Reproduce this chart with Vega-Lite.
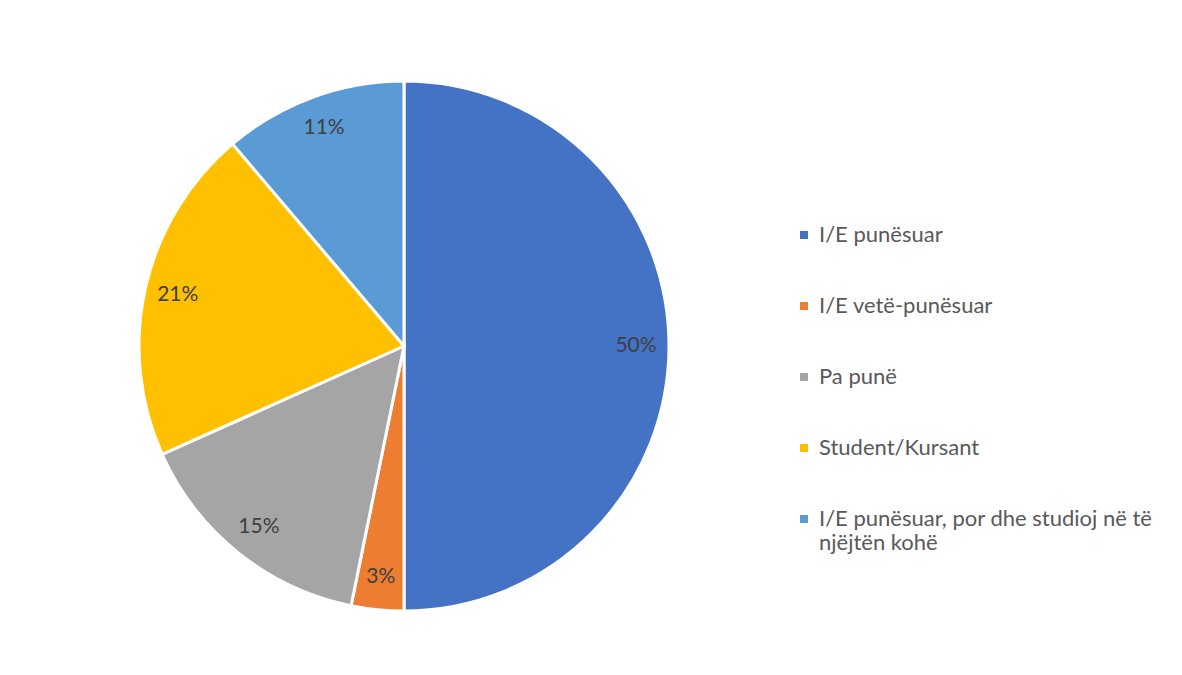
{
  "$schema": "https://vega.github.io/schema/vega-lite/v6.json",
  "width": 808,
  "height": 658,
  "padding": {"left": 0, "top": 17, "right": 0, "bottom": 0},
  "autosize": {"type": "pad"},
  "background": "white",
  "config": {"view": {"stroke": null}},
  "data": {
    "values": [
      {"category": "I/E punësuar", "value": 50.0, "label": "50%", "order": 1},
      {"category": "I/E vetë-punësuar", "value": 3.2, "label": "3%", "order": 2},
      {"category": "Pa punë", "value": 15.1, "label": "15%", "order": 3},
      {"category": "Student/Kursant", "value": 20.5, "label": "21%", "order": 4},
      {"category": "I/E punësuar, por dhe studioj në të njëjtën kohë", "value": 11.2, "label": "11%", "order": 5}
    ]
  },
  "encoding": {
    "theta": {"field": "value", "type": "quantitative", "stack": true},
    "order": {"field": "order", "type": "quantitative"}
  },
  "layer": [
    {
      "mark": {"type": "arc", "radius": 265, "stroke": "white", "strokeWidth": 3},
      "encoding": {
        "color": {
          "field": "category",
          "type": "nominal",
          "sort": ["I/E punësuar", "I/E vetë-punësuar", "Pa punë", "Student/Kursant", "I/E punësuar, por dhe studioj në të njëjtën kohë"],
          "scale": {
            "domain": ["I/E punësuar", "I/E vetë-punësuar", "Pa punë", "Student/Kursant", "I/E punësuar, por dhe studioj në të njëjtën kohë"],
            "range": ["#4472C4", "#ED7D31", "#A5A5A5", "#FFC000", "#5B9BD5"]
          },
          "legend": {
            "title": null,
            "orient": "none",
            "legendX": 793,
            "legendY": 207,
            "symbolType": "square",
            "symbolSize": 64,
            "symbolStrokeWidth": 0,
            "labelFont": "Lato",
            "labelFontSize": 22,
            "labelColor": "#595959",
            "labelOffset": 4,
            "labelLimit": 500,
            "rowPadding": 49,
            "labelExpr": "datum.label == 'I/E punësuar, por dhe studioj në të njëjtën kohë' ? ['I/E punësuar, por dhe studioj në të', 'njëjtën kohë'] : datum.label",
            "encode": {"labels": {"update": {"lineHeight": {"value": 30}}}}
          }
        }
      }
    },
    {
      "mark": {"type": "text", "radius": 232, "font": "Lato", "fontSize": 21, "color": "#404040"},
      "encoding": {
        "text": {"field": "label", "type": "nominal"}
      }
    }
  ]
}
